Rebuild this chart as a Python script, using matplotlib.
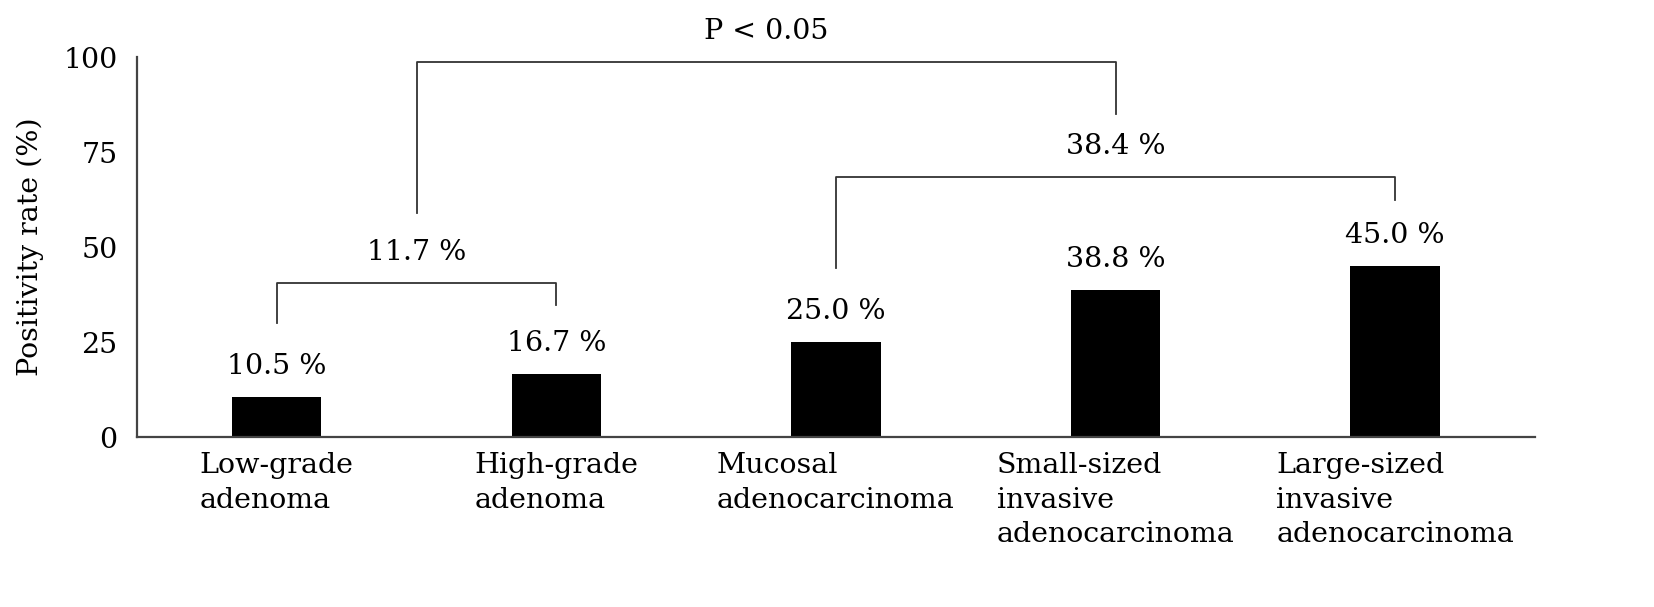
import matplotlib.pyplot as plt

categories = ["Low-grade\nadenoma", "High-grade\nadenoma", "Mucosal\nadenocarcinoma",
              "Small-sized\ninvasive\nadenocarcinoma", "Large-sized\ninvasive\nadenocarcinoma"]
values = [10.5, 16.7, 25.0, 38.8, 45.0]
value_labels = ["10.5 %", "16.7 %", "25.0 %", "38.8 %", "45.0 %"]
y_ticks = [0, 25, 50, 75, 100]

# group brackets: (left bar, right bar, left leg bottom, right leg bottom, top, label)
group_brackets = [
    (0, 1, 30, 34.7, 40.5, "11.7 %"),
    (2, 4, 44.5, 62.4, 68.4, "38.4 %"),
]
compare_bracket = (59, 85, 98.7, "P < 0.05")

plt.rcParams['font.family'] = ['DejaVu Serif']
FS = 20.5

fig = plt.figure(figsize=(16.54, 6.07), dpi=100)
ax = fig.add_axes([0.0828, 0.280, 0.8452, 0.626])

x = list(range(len(values)))
ax.bar(x, values, width=0.32, color="black")
ax.set_xlim(-0.5, 4.5)
ax.set_ylim(0, 100)

for xi, v, lab in zip(x, values, value_labels):
    ax.annotate(lab, (xi, v), xytext=(0, 12), textcoords="offset points",
                ha="center", va="bottom", fontsize=FS)

mids = []
for a, b, lb, rb, top, lab in group_brackets:
    ax.plot([a, a, b, b], [lb, top, top, rb], color="#333333", lw=1.3, clip_on=False)
    ax.text((a + b) / 2, top + 4.5, lab, ha="center", va="bottom", fontsize=FS)
    mids.append((a + b) / 2)

lb, rb, top, lab = compare_bracket
ax.plot([mids[0], mids[0], mids[1], mids[1]], [lb, top, top, rb],
        color="#333333", lw=1.3, clip_on=False)
ax.text((mids[0] + mids[1]) / 2, top + 4.5, lab, ha="center", va="bottom", fontsize=FS)

ax.set_yticks(y_ticks)
ax.set_yticklabels([str(t) for t in y_ticks], fontsize=FS)
ax.set_xticks(x)
ax.set_xticklabels(categories, fontsize=FS, multialignment="left", linespacing=1.35)
ax.tick_params(axis="y", length=0, pad=14)
ax.tick_params(axis="x", length=0, pad=11)
ax.set_ylabel("Positivity rate (%)", fontsize=FS, labelpad=14)

for s in ["top", "right"]:
    ax.spines[s].set_visible(False)
for s in ["left", "bottom"]:
    ax.spines[s].set_color("#444444")
    ax.spines[s].set_linewidth(1.6)

fig.savefig("out.png", dpi=100)
